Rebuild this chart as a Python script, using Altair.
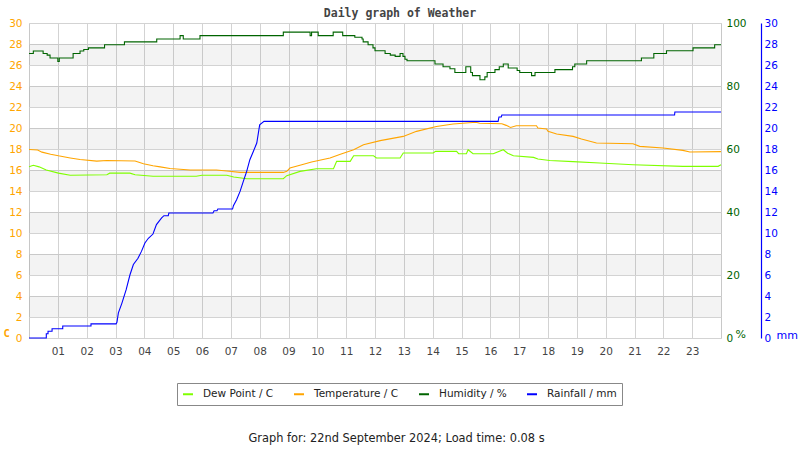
import altair as alt
import pandas as pd

# ---------------- data ----------------
series_names = ["Dew Point / C", "Temperature / C", "Humidity / %", "Rainfall / mm"]
series_colors = ["#7FFF00", "#FFA500", "#006400", "#0000FF"]

hour_ticks = list(range(1, 24))
c_ticks = list(range(0, 31, 2))
pct_ticks = [0, 20, 40, 60, 80, 100]
mm_ticks = list(range(0, 31, 2))
band_lo = [2, 6, 10, 14, 18, 22, 26]
band_hi = [4, 8, 12, 16, 20, 24, 28]

temp_hours = [0.0, 0.3, 0.45, 0.75, 1.02, 1.43, 1.77, 2.35, 2.7, 3.68, 3.97, 4.3, 4.55, 4.89,
              5.59, 6.5, 6.86, 7.32, 8.82, 8.94, 9.05, 9.46, 9.8, 10.44, 10.8, 11.26, 11.6,
              12.18, 12.98, 13.44, 14.13, 14.71, 15.5, 15.63, 16.4, 16.55, 16.7, 16.9, 17.6, 17.65,
              17.95, 18.0, 18.3, 18.87, 19.16, 19.68, 20.95, 21.18, 21.99, 22.68, 22.92, 24.0]
temp_vals = [17.95, 17.9, 17.7, 17.5, 17.35, 17.15, 17.0, 16.85, 16.9, 16.85, 16.6, 16.4, 16.3, 16.15,
             16.0, 16.0, 15.9, 15.77, 15.77, 15.87, 16.19, 16.5, 16.76, 17.14, 17.5, 17.93, 18.4,
             18.8, 19.2, 19.68, 20.15, 20.38, 20.55, 20.45, 20.4, 20.25, 20.05, 20.22, 20.22, 20.0,
             19.9, 19.68, 19.43, 19.2, 18.95, 18.57, 18.5, 18.25, 18.1, 17.87, 17.71, 17.75]

dew_hours = [0.0, 0.15, 0.35, 0.6, 1.02, 1.43, 2.7, 2.8, 3.5, 3.68, 4.3, 5.8, 6.0, 6.86, 7.1,
             7.55, 8.82, 8.94, 9.4, 9.97, 10.56, 10.67, 11.14, 11.26, 11.95, 12.05, 12.87, 12.98,
             14.02, 14.1, 14.83, 14.9, 15.17, 15.23, 15.4, 16.1, 16.45, 16.6, 16.8, 17.5, 17.65,
             18.06, 18.87, 19.79, 20.95, 22.68, 23.9, 24.0]
dew_vals = [16.3, 16.45, 16.3, 16.0, 15.7, 15.5, 15.55, 15.7, 15.7, 15.55, 15.4, 15.4, 15.5, 15.5, 15.33,
            15.17, 15.17, 15.46, 15.87, 16.12, 16.12, 16.82, 16.82, 17.36, 17.36, 17.14, 17.14, 17.62,
            17.62, 17.77, 17.77, 17.55, 17.55, 17.93, 17.55, 17.55, 17.93, 17.6, 17.36, 17.2, 17.05,
            16.9, 16.8, 16.67, 16.5, 16.35, 16.35, 16.5]

hum_hours = [0.0, 0.15, 0.49, 0.63, 0.73, 1.0, 1.05, 1.53, 1.77, 1.9, 2.06, 2.62, 3.31, 4.43,
             5.24, 5.35, 5.93, 8.82, 9.75, 9.8, 10.03, 10.55, 10.88, 11.3, 11.55, 11.59, 11.76,
             11.93, 12.0, 12.35, 12.53, 12.7, 12.87, 12.97, 13.04, 13.11, 14.08, 14.36, 14.6,
             14.77, 15.15, 15.32, 15.38, 15.64, 15.81, 15.89, 16.16, 16.31, 16.45, 16.62, 16.93,
             17.02, 17.43, 17.55, 18.24, 18.85, 18.93, 19.34, 21.24, 21.67, 22.11, 23.03, 23.78, 24.0]
hum_vals = [90.3, 91.1, 90.3, 89.8, 88.9, 87.8, 88.9, 90.3, 91.1, 91.6, 92.1, 93.1, 94.0, 94.9,
            96.0, 94.9, 96.0, 97.1, 96.0, 97.1, 96.0, 97.1, 96.0, 95.5, 94.9, 94.0, 93.1,
            92.1, 91.2, 90.3, 89.8, 89.4, 90.3, 89.4, 88.5, 88.0, 87.0, 86.1, 85.5,
            84.3, 86.1, 84.3, 83.3, 82.0, 82.9, 84.3, 85.2, 86.1, 87.0, 85.7, 84.9,
            84.3, 83.3, 84.3, 85.2, 86.1, 87.0, 88.0, 88.9, 90.3, 91.2, 92.1, 93.1, 93.1]

rain_hours = [0.0, 0.6, 0.6, 0.66, 0.66, 0.8, 0.8, 1.17, 1.17, 2.15, 2.15, 3.02, 3.05, 3.1, 3.22,
              3.37, 3.5, 3.62, 3.78, 3.9, 4.02, 4.14, 4.3, 4.42, 4.6, 4.68, 4.83, 4.85, 6.38, 6.42,
              6.52, 6.55, 7.06, 7.09, 7.2, 7.32, 7.43, 7.55, 7.66, 7.78, 7.9, 8.0, 8.15, 16.27,
              16.3, 16.38, 16.4, 22.39, 22.4, 24.0]
rain_vals = [0.0, 0.0, 0.4, 0.4, 0.65, 0.65, 0.88, 0.88, 1.14, 1.14, 1.35, 1.35, 1.5, 2.4, 3.3,
             4.6, 6.0, 7.0, 7.6, 8.25, 9.05, 9.5, 9.9, 10.8, 11.43, 11.65, 11.65, 11.9, 11.9, 12.12,
             12.12, 12.28, 12.28, 12.6, 13.17, 13.96, 14.9, 15.87, 16.98, 17.77, 18.57, 20.3, 20.63, 20.63,
             21.05, 21.05, 21.24, 21.24, 21.52, 21.52]

title_text = "Daily graph of Weather"
footer_text = "Graph for: 22nd September 2024; Load time: 0.08 s"

# ---------------- tables ----------------
c_df = pd.concat([
    pd.DataFrame({"hour": dew_hours, "value": dew_vals, "series": series_names[0]}),
    pd.DataFrame({"hour": temp_hours, "value": temp_vals, "series": series_names[1]}),
])
hum_df = pd.DataFrame({"hour": hum_hours, "value": hum_vals, "series": series_names[2]})
rain_df = pd.DataFrame({"hour": rain_hours, "value": rain_vals, "series": series_names[3]})
rain_df["idx"] = range(len(rain_df))
band_df = pd.DataFrame({"lo": band_lo, "hi": band_hi})

W, H = 692, 315
FONT = "DejaVu Sans"

color_scale = alt.Scale(domain=series_names, range=series_colors)
legend = alt.Legend(
    orient="none", legendX=148, legendY=360, direction="horizontal", title=None,
    symbolType="stroke", symbolStrokeWidth=2, symbolSize=100,
    labelFont=FONT, labelFontSize=10.5, labelColor="#222", labelOffset=9,
    strokeColor="#888", fillColor="white", padding=5, columnPadding=16,
)
color_enc = alt.Color("series:N", scale=color_scale, legend=legend)

x_scale = alt.Scale(domain=[0, 24], nice=False, zero=False)
x_axis = alt.Axis(
    values=hour_ticks,
    labelExpr="(datum.value < 10 ? '0' : '') + datum.value",
    grid=True, gridColor="#d3d3d3", ticks=False, domain=False,
    labelPadding=8, labelFont=FONT, labelFontSize=10.5, labelColor="#444",
    title=footer_text, titleX=367, titleY=100, titleAlign="center", titleBaseline="middle",
    titleFont=FONT, titleFontSize=11.4, titleFontWeight="normal", titleColor="#222",
)
x_enc = alt.X("hour:Q", scale=x_scale, axis=x_axis)

c_scale = alt.Scale(domain=[0, 30], nice=False, zero=False)
c_axis = alt.Axis(
    orient="left", values=c_ticks, grid=True, gridColor="#d3d3d3", ticks=False, domain=False,
    labelPadding=7, labelFont=FONT, labelFontSize=10.5, labelColor="#FFA500",
    title="C", titleAngle=0, titleX=-26, titleY=310, titleAlign="left", titleBaseline="middle",
    titleFont="DejaVu Sans Mono", titleFontSize=10.5, titleFontWeight="bold", titleColor="#FFA500",
)

bands = alt.Chart(band_df).mark_rect(fill="#000000", fillOpacity=0.047).encode(
    x=alt.value(0), x2=alt.value(W),
    y=alt.Y("lo:Q", scale=c_scale, axis=c_axis), y2="hi:Q",
)

c_lines = alt.Chart(c_df).mark_line(strokeWidth=1.1).encode(
    x=x_enc,
    y=alt.Y("value:Q", scale=c_scale, axis=None),
    color=color_enc,
    detail="series:N",
)

hum_line = alt.Chart(hum_df).mark_line(strokeWidth=1.1, interpolate="step-after").encode(
    x=x_enc,
    y=alt.Y("value:Q", scale=alt.Scale(domain=[0, 100], nice=False, zero=False),
            axis=alt.Axis(orient="right", values=pct_ticks, grid=False, ticks=False, domain=False,
                          labelPadding=5, labelFont=FONT, labelFontSize=10.5, labelColor="#006400",
                          title="%", titleAngle=0, titleX=14, titleY=311, titleAlign="left",
                          titleBaseline="middle", titleFont=FONT, titleFontSize=11,
                          titleFontWeight="normal", titleColor="#006400")),
    color=color_enc,
)

rain_line = alt.Chart(rain_df).mark_line(strokeWidth=1.1).encode(
    x=x_enc,
    y=alt.Y("value:Q", scale=alt.Scale(domain=[0, 30], nice=False, zero=False),
            axis=alt.Axis(orient="right", offset=40, values=mm_ticks, grid=False, ticks=False,
                          domain=True, domainColor="#0000FF", domainWidth=1.2,
                          labelPadding=3, labelFont=FONT, labelFontSize=10.5, labelColor="#0000FF",
                          title="mm", titleAngle=0, titleX=15, titleY=312, titleAlign="left",
                          titleBaseline="middle", titleFont=FONT, titleFontSize=11,
                          titleFontWeight="normal", titleColor="#0000FF")),
    color=color_enc,
    order="idx:Q",
)

chart = alt.layer(bands, c_lines, hum_line, rain_line).resolve_scale(
    y="independent"
).properties(
    width=W, height=H,
    title=alt.TitleParams(title_text, font="DejaVu Sans Mono", fontSize=11.5, fontWeight="bold",
                          color="#444", anchor="middle", dx=25, dy=6, offset=5),
    autosize=alt.AutoSizeParams(type="none"),
    padding={"left": 29, "top": 23, "right": 79, "bottom": 112},
    background="white",
).configure_view(stroke="#c8c8c8", strokeWidth=1)

chart.save("out.html", embed_options={"renderer": "svg", "actions": False})
